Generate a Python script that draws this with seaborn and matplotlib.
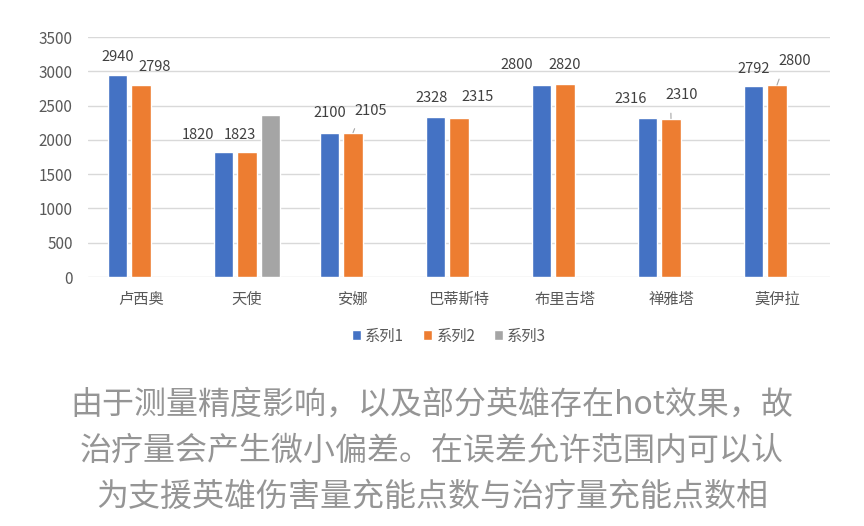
import numpy as np
import pandas as pd
import seaborn as sns
import matplotlib.pyplot as plt

heroes = ["卢西奥", "天使", "安娜", "巴蒂斯特", "布里吉塔", "禅雅塔", "莫伊拉"]
series_names = ["系列1", "系列2", "系列3"]
series1 = [2940, 1820, 2100, 2328, 2800, 2316, 2792]
series2 = [2798, 1823, 2105, 2315, 2820, 2310, 2800]
series3 = [np.nan, 2368, np.nan, np.nan, np.nan, np.nan, np.nan]
colors = ["#4472C4", "#ED7D31", "#A5A5A5"]

caption_lines = [
    "由于测量精度影响，以及部分英雄存在hot效果，故",
    "治疗量会产生微小偏差。在误差允许范围内可以认",
    "为支援英雄伤害量充能点数与治疗量充能点数相",
]

# label offsets in pixels (dx, dy above bar top), per series then hero
label_dx = [
    [0, -26, 0, -4, -25, -17, 0],
    [14, -7, 18, 19, 0, 11, 18],
    [0, 0, 0, 0, 0, 0, 0],
]
label_dy = [
    [18, 17, 20, 19, 20, 19, 17],
    [18, 17, 22, 21, 19, 24, 24],
    [17, 17, 17, 17, 17, 17, 17],
]
leader = {(1, 2), (1, 5), (1, 6)}

df = pd.DataFrame({
    "hero": heroes * 3,
    "series": [s for s in series_names for _ in heroes],
    "value": series1 + series2 + series3,
})

sns.set_theme(style="white")
plt.rcParams["font.family"] = ["Noto Sans CJK SC", "DejaVu Sans"]

fig = plt.figure(figsize=(8.64, 5.26), dpi=100)
ax = fig.add_axes([88 / 864, 1 - 277 / 526, 742 / 864, 240 / 526])

sns.barplot(data=df, x="hero", y="value", hue="series", order=heroes,
            hue_order=series_names, palette=colors, width=0.66, gap=0.16,
            saturation=1, legend=True, ax=ax)

ax.set_ylim(0, 3500)
ax.set_xlim(-0.5, len(heroes) - 0.5)
ax.set_yticks(np.arange(0, 3501, 500))
ax.yaxis.grid(True, color="#D9D9D9", linewidth=1)
ax.set_axisbelow(True)
for s in ax.spines.values():
    s.set_visible(False)
ax.set_xlabel("")
ax.set_ylabel("")
ax.tick_params(axis="y", length=0, pad=11, labelsize=11, labelcolor="#595959")
ax.tick_params(axis="x", length=0, pad=10, labelsize=11, labelcolor="#595959")

px = 0.72
values = [series1, series2, series3]
for si, cont in enumerate(ax.containers):
    for hi, bar in enumerate(cont):
        v = values[si][hi]
        if np.isnan(v):
            continue
        xc = bar.get_x() + bar.get_width() / 2
        dx = label_dx[si][hi] * px
        dy = label_dy[si][hi] * px
        if (si, hi) in leader:
            ax.annotate(f"{int(v)}", xy=(xc, v), xytext=(dx, dy),
                        textcoords="offset points", ha="center", va="center",
                        fontsize=10.5, color="#404040",
                        arrowprops=dict(arrowstyle="-", color="#A6A6A6",
                                        lw=0.8, shrinkA=6, shrinkB=0,
                                        relpos=(0.15, 0.1)))
        else:
            ax.annotate(f"{int(v)}", xy=(xc, v), xytext=(dx, dy),
                        textcoords="offset points", ha="center", va="center",
                        fontsize=10.5, color="#404040")

handles, labels = ax.get_legend_handles_labels()
ax.legend(handles, labels, loc="center", bbox_to_anchor=(449 / 864, 1 - 336 / 526),
          bbox_transform=fig.transFigure, ncol=3, frameon=False, fontsize=11,
          labelcolor="#595959", handlelength=0.6, handleheight=0.6,
          handletextpad=0.3, columnspacing=1.2)

for i, line in enumerate(caption_lines):
    fig.text(0.5, 1 - (405 + 46 * i) / 526, line, ha="center", va="center",
             fontsize=23, color="#959595", fontweight="light")

fig.savefig("out.png", dpi=100)
